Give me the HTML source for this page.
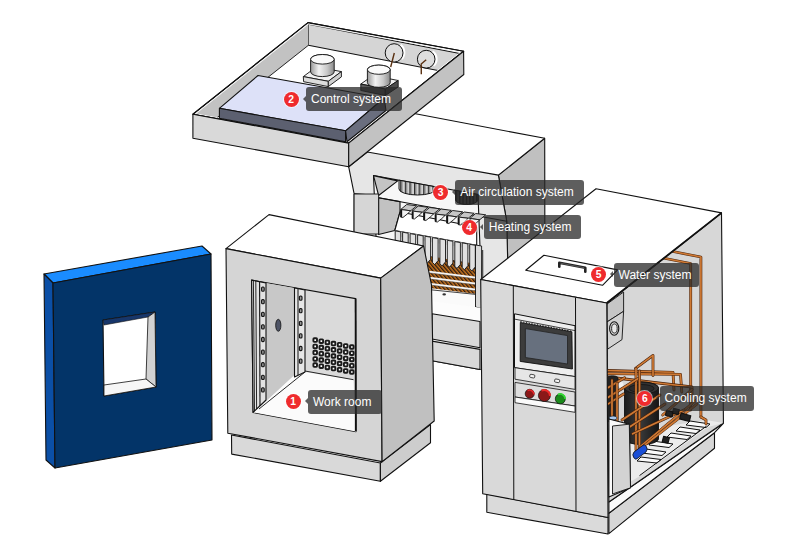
<!DOCTYPE html>
<html><head><meta charset="utf-8">
<style>
html,body{margin:0;padding:0;background:#fff;}
body{width:794px;height:550px;overflow:hidden;position:relative;font-family:"Liberation Sans",sans-serif;}
svg{position:absolute;left:0;top:0;}
.lb{position:absolute;height:24.2px;background:rgba(40,40,40,0.75);border-radius:3px;color:#fff;font-size:12px;line-height:24px;padding:0 0 0 5px;white-space:nowrap;box-sizing:border-box;}
.lb:before{content:"";position:absolute;left:-3.4px;top:8.9px;border-right:3.4px solid rgba(40,40,40,0.75);border-top:3.2px solid transparent;border-bottom:3.2px solid transparent;}
.dot{position:absolute;width:15px;height:15px;border-radius:50%;background:#ef2b2d;color:#fff;font-size:10.3px;font-weight:bold;line-height:15.6px;text-align:center;box-shadow:0 0 0 1px rgba(255,255,255,0.6);}
</style></head><body>
<svg width="794" height="550" viewBox="0 0 794 550" stroke-linejoin="round">
<g stroke="#111" stroke-width="1.1">
<!-- ============ BLUE DOOR PANEL ============ -->
<polygon points="44,274 202,246 211,254 53,283" fill="#1a8cff"/>
<polygon points="44,274 53,283 55,468 46,460" fill="#0b4fa6"/>
<polygon points="53,283 211,254 212,440 55,468" fill="#033468"/>
<polygon points="103,320 155,312 156,387 104,396" fill="#fff"/>
<polygon points="103,320 155,312 148,317 104,325" fill="#17366a" stroke-width="0.6"/>
<polygon points="148,317 155,312 156,387 146,379" fill="#d2d2d2" stroke-width="0.8"/>
<polygon points="104,385 146,379 156,387 104,396" fill="#f6f6f6" stroke-width="0.8"/>
</g>
<!-- ============ MIDDLE UNIT ============ -->
<defs>
<pattern id="cu" width="2.8" height="4" patternUnits="userSpaceOnUse" patternTransform="rotate(-40)"><rect width="2.8" height="4" fill="#c8741f"/><rect width="1.3" height="4" fill="#2a1a10"/></pattern>
<linearGradient id="fan" x1="0" x2="1"><stop offset="0" stop-color="#777"/><stop offset="0.5" stop-color="#ddd"/><stop offset="1" stop-color="#666"/></linearGradient>
</defs>
<g stroke="#111" stroke-width="1.1">
<polygon points="498.4,175.1 544.7,138.3 545,330 508.2,330 508.2,280 506.7,221.2" fill="#c0c0c0"/>
<polygon points="348.7,166.8 420,110 544.7,138.3 498.4,175.1 367.3,152.05" fill="#fff" stroke="none"/><line x1="405" y1="111.8" x2="544.7" y2="138.3"/><line x1="544.7" y1="138.3" x2="498.4" y2="175.1"/>
<polygon points="348.7,166.8 367.3,152.05 498.4,175.1 506.7,221.2 508.2,280 508.2,371 480,369.5 432,360.8 354,360 354.1,193.6" fill="#e6e6e6"/>
<line x1="482.7" y1="250" x2="483" y2="380" stroke-width="0.9"/>
<polygon points="373.5,175.6 478,194.5 482,300 378.6,300" fill="#f7f7f7"/>
<polygon points="373.5,175.6 397.7,180.9 378.6,195.5" fill="#c4c4c4"/>
<polygon points="378.6,197.7 400,201.6 400,212 394.8,230.5 378.6,234.5" fill="#c2c2c2"/>
<line x1="378.6" y1="197.7" x2="506.7" y2="221.2"/>
<line x1="354.1" y1="193.6" x2="378.6" y2="195.5" stroke-width="0.9"/>
<rect x="354.1" y="194" width="24.5" height="40" fill="#d6d6d6" stroke-width="0.9"/>
<!-- fans -->
<pattern stroke="none" id="blade" width="4.6" height="10" patternUnits="userSpaceOnUse"><rect width="4.6" height="10" fill="#d2d2d2"/><rect width="1.4" height="10" fill="#2a2a2a"/><rect x="1.4" width="1" height="10" fill="#8c8c8c"/></pattern>
<pattern stroke="none" id="blade2" width="3.4" height="10" patternUnits="userSpaceOnUse"><rect width="3.4" height="10" fill="#555"/><rect width="1.3" height="10" fill="#111"/></pattern>
<path d="M399,180.2 L399,189 A18.5,6 0 0 0 436,189 L436,186.9 Z" fill="url(#blade)" stroke-width="1"/>
<path d="M455.5,190.4 L455.5,200 A11.3,5 0 0 0 478,200 L478,194.5 Z" fill="url(#blade2)" stroke-width="1"/>
<!-- heater box -->
<polygon points="400,212 476.7,227 476.7,245.3 394.8,230.5" fill="#fff"/>
<g stroke-width="0.9"><polygon points="400.7,209.5 406.7,204.5 416.7,205.8 410.7,210.8" fill="#c6c6c6"/><polygon points="400.7,209.5 410.7,210.8 407.2,214.1 402.9,217.5 400.7,217.1" fill="#f2f2f2"/><line x1="401.3" y1="210.0" x2="401.3" y2="217.1" stroke-width="1.7"/><polygon points="412.2,211.0 418.2,206.0 428.2,207.3 422.2,212.3" fill="#c6c6c6"/><polygon points="412.2,211.0 422.2,212.3 418.7,215.6 414.4,219.0 412.2,218.6" fill="#f2f2f2"/><line x1="412.8" y1="211.5" x2="412.8" y2="218.6" stroke-width="1.7"/><polygon points="423.7,212.5 429.7,207.5 439.7,208.8 433.7,213.8" fill="#c6c6c6"/><polygon points="423.7,212.5 433.7,213.8 430.2,217.1 425.9,220.5 423.7,220.1" fill="#f2f2f2"/><line x1="424.3" y1="213.0" x2="424.3" y2="220.1" stroke-width="1.7"/><polygon points="435.2,214.0 441.2,209.0 451.2,210.3 445.2,215.3" fill="#c6c6c6"/><polygon points="435.2,214.0 445.2,215.3 441.7,218.6 437.4,222.0 435.2,221.6" fill="#f2f2f2"/><line x1="435.8" y1="214.5" x2="435.8" y2="221.6" stroke-width="1.7"/><polygon points="446.7,215.5 452.7,210.5 462.7,211.8 456.7,216.8" fill="#c6c6c6"/><polygon points="446.7,215.5 456.7,216.8 453.2,220.1 448.9,223.5 446.7,223.1" fill="#f2f2f2"/><line x1="447.3" y1="216.0" x2="447.3" y2="223.1" stroke-width="1.7"/><polygon points="458.2,217.0 464.2,212.0 474.2,213.3 468.2,218.3" fill="#c6c6c6"/><polygon points="458.2,217.0 468.2,218.3 464.7,221.6 460.4,225.0 458.2,224.6" fill="#f2f2f2"/><line x1="458.8" y1="217.5" x2="458.8" y2="224.6" stroke-width="1.7"/><polygon points="469.7,218.5 475.7,213.5 485.7,214.8 479.7,219.8" fill="#c6c6c6"/><polygon points="469.7,218.5 479.7,219.8 476.2,223.1 471.9,226.5 469.7,226.1" fill="#f2f2f2"/><line x1="470.3" y1="219.0" x2="470.3" y2="226.1" stroke-width="1.7"/></g>
<polygon points="423,255 476.7,264 476.7,294 430,288 423,284" fill="url(#cu)" stroke="none"/>
<polygon points="431,290 476.7,294.5 478,312 423,312" fill="#fafafa" stroke="none"/>
<line x1="425" y1="271.2" x2="476.7" y2="277.8" stroke="#f4f4f4" stroke-width="2"/><line x1="425" y1="272.4" x2="476.7" y2="279.0" stroke="#555" stroke-width="0.5"/>
<line x1="425" y1="277.2" x2="476.7" y2="283.8" stroke="#f4f4f4" stroke-width="2"/><line x1="425" y1="278.4" x2="476.7" y2="285.0" stroke="#555" stroke-width="0.5"/>
<line x1="425" y1="283.2" x2="476.7" y2="289.8" stroke="#f4f4f4" stroke-width="2"/><line x1="425" y1="284.4" x2="476.7" y2="291.0" stroke="#555" stroke-width="0.5"/>
<line x1="428" y1="289.5" x2="476.7" y2="294.5" stroke-width="0.8"/>
<polygon points="394.8,230.5 476.7,245.3 476.7,250 394.8,236" fill="#e2e2e2" stroke="none"/>
<g fill="#e0e0e0" stroke-width="0.9"><polygon points="395.2,230.9 400.8,231.9 400.8,241.9 395.2,240.9"/><polygon points="402.6,232.2 408.2,233.2 408.2,243.2 402.6,242.2"/><polygon points="410.1,233.6 415.7,234.6 415.7,244.6 410.1,243.6"/><polygon points="417.6,234.9 423.2,235.9 423.2,245.9 417.6,244.9"/><polygon points="425.0,236.2 430.6,237.2 430.6,259.3 427.2,263.3 425.0,261.3"/><polygon points="432.4,237.6 438.1,238.6 438.1,260.6 434.7,264.6 432.4,262.6"/><polygon points="439.9,238.9 445.5,239.9 445.5,261.9 442.1,265.9 439.9,263.9"/><polygon points="447.3,240.3 452.9,241.3 452.9,263.1 449.6,267.1 447.3,265.1"/><polygon points="454.8,241.6 460.4,242.6 460.4,264.4 457.0,268.4 454.8,266.4"/><polygon points="462.2,242.9 467.9,243.9 467.9,265.7 464.5,269.7 462.2,267.7"/><polygon points="469.7,244.3 475.3,245.3 475.3,266.9 471.9,270.9 469.7,268.9"/></g>
<ellipse cx="444.2" cy="294.4" rx="1.8" ry="1.1" fill="#333" stroke="none"/>
<polygon points="475.5,245 481.6,246 481.6,308.6 475.5,307" fill="#d8d8d8" stroke-width="0.9"/>
<polygon points="423,300 482,308 482,369.5 432,360.8 423,360" fill="#fcfcfc" stroke="none"/>
<polygon points="432,313.8 480,321.5 480,347.7 432,339" fill="#d9d9d9"/>
<polygon points="432,341.1 480,349.4 480,369.5 432,360.8" fill="#d9d9d9"/>
</g>
<!-- ============ CONTROL TRAY ============ -->
<defs>
<clipPath id="trayin"><polygon points="308.4,24.1 460.4,52.1 347.8,141.6 196.1,113.4"/></clipPath>
<linearGradient id="cyl" x1="0" x2="1"><stop offset="0" stop-color="#9a9a9a"/><stop offset="0.35" stop-color="#f2f2f2"/><stop offset="0.7" stop-color="#c8c8c8"/><stop offset="1" stop-color="#8a8a8a"/></linearGradient>
</defs>
<g stroke="#111" stroke-width="1.1">
<polygon points="308,22.6 463.6,51.3 348.7,143.1 192.9,114.2" fill="#fff"/>
<g clip-path="url(#trayin)">
<polygon points="308.4,24.1 470,55.5 470,76.8 308.4,45.3" fill="#d5d5d5" stroke-width="1.1"/>
<polygon points="308.4,24.1 308.4,45.3 180,147 180,120" fill="#c2c2c2" stroke="none"/>
<line x1="308.4" y1="45.3" x2="190" y2="139.1" stroke-width="0.9"/>
</g>
<polygon points="308,22.6 463.6,51.3 348.7,143.1 192.9,114.2" fill="none"/>
<polyline points="196.1,113.4 308.4,24.1 460.4,52.1" fill="none" stroke="#f2f2f2" stroke-width="0.9"/>
<polygon points="192.9,114.2 348.7,143.1 348.7,166.8 192.9,138.2" fill="#d9d9d9"/>
<polygon points="348.7,143.1 463.6,51.3 463.8,74.5 348.7,166.8" fill="#c2c2c2"/>
<!-- gauges -->
<path d="M400.5,45 a9,9.3 0 0 1 1,14" fill="none" stroke="#fff" stroke-width="2.5"/><ellipse cx="394.1" cy="52.9" rx="8.9" ry="9.2" fill="#dedede" stroke-width="1"/>
<path d="M432.5,51.5 a9,9 0 0 1 1,14" fill="none" stroke="#fff" stroke-width="2.5"/><ellipse cx="426.2" cy="59.2" rx="8.8" ry="8.9" fill="#dedede" stroke-width="1"/>
<path d="M394.3,53 L390.7,67" stroke="#5a3010" stroke-width="1.4"/>
<path d="M426.2,59.8 L421.2,64 L421.3,74.3" stroke="#5a3010" stroke-width="1.4" fill="none"/>
<!-- board -->
<polygon points="258,75.5 384.2,98 345.6,130.8 219.4,108.3" fill="#dde1f8"/>
<polygon points="219.4,108.3 345.6,130.8 345.6,141.8 219.4,118.2" fill="#5c6070"/>
<polygon points="345.6,130.8 384.2,98 386,110.5 347,141.8" fill="#6a6e7e"/>
<!-- relay 1 -->
<polygon points="303.3,76.6 316.4,66.9 341.4,71.6 328.3,81.3" fill="#f2f2f2" stroke-width="0.9"/>
<polygon points="303.3,76.6 328.3,81.3 328.3,86.6 303.6,81.7" fill="#dcdcdc" stroke-width="0.9"/>
<polygon points="328.3,81.3 341.4,71.6 341.4,76.9 328.3,86.6" fill="#cfcfcf" stroke-width="0.9"/>
<path d="M310.6,59.3 a11.8,4.8 0 0 1 23.6,0 v12.5 a11.8,4.8 0 0 1 -23.6,0 z" fill="url(#cyl)" stroke-width="0.9"/>
<ellipse cx="322.4" cy="59.3" rx="11.8" ry="4.8" fill="#fafafa" stroke-width="0.9"/>
<!-- relay 2 -->
<polygon points="360.8,84 373,75.5 398.2,80.5 385.3,89" fill="#f0f0f0" stroke-width="0.9"/>
<polygon points="360.8,84 385.3,89 385.3,95.5 360.8,90.5" fill="#5a5a5a" stroke-width="0.9"/>
<polygon points="385.3,89 398.2,80.5 398.2,87 385.3,95.5" fill="#4a4a4a" stroke-width="0.9"/>
<path d="M367.4,69.7 a11.4,4.6 0 0 1 22.8,0 v13 a11.4,4.6 0 0 1 -22.8,0 z" fill="url(#cyl)" stroke-width="0.9"/>
<ellipse cx="378.8" cy="69.7" rx="11.4" ry="4.6" fill="#fafafa" stroke-width="0.9"/>
</g>
<!-- ============ WORK ROOM ============ -->
<g stroke="#111" stroke-width="1.1">
<polygon points="231.5,435 380.4,463 380.4,481.3 231.7,454.1" fill="#d9d9d9"/>
<polygon points="380.4,463 430.5,424.5 430.5,442.7 380.4,481.3" fill="#cdcdcd"/>
<polygon points="269,214.6 423.6,246 380.7,278.1 226,248.6" fill="#fff"/>
<polygon points="226,248.6 380.7,278.1 382.1,461.6 227.8,433.2" fill="#d5d5d5"/>
<polygon points="380.7,278.1 423.6,246 431.5,285 434.2,421 382.1,461.6" fill="#c0c0c0"/>
<!-- opening interior -->
<polygon points="251.6,280.1 355.6,298.6 356,431.6 253.1,412.4" fill="#dadada"/>
<polygon points="266,283 294.5,288 294.5,375 262,405" fill="#c8c8c8" stroke="none"/>
<polygon points="253.1,412.4 262,405 294.5,375 305,372 353.5,379.7 356,431.6" fill="#fbfbfb" stroke="none"/>
<line x1="305" y1="371" x2="353.5" y2="379.7" stroke-width="0.9"/>
<line x1="259" y1="409" x2="305" y2="372" stroke-width="0.9"/>
<polygon points="251.6,280.1 266,283 266,400 253.1,412.4" fill="#e2e2e2" stroke-width="1.1"/>
<line x1="253.4" y1="281" x2="254.5" y2="411" stroke-width="0.9"/>
<line x1="255.8" y1="281" x2="256.6" y2="409" stroke-width="0.9"/>
<line x1="259.6" y1="282" x2="260" y2="406" stroke-width="1.1"/>
<polygon points="294.5,288 305,290 305,372 294.5,377" fill="#e6e6e6" stroke-width="1.1"/>
<line x1="298" y1="289" x2="298" y2="375" stroke-width="1"/>
<ellipse cx="278.3" cy="325.3" rx="2.6" ry="6" fill="#4e5466" stroke-width="0.8"/>
<g fill="#9a9a9a" stroke-width="1.1"><rect x="261.6" y="287.0" width="2.6" height="4.2" rx="1"/><rect x="261.6" y="299.6" width="2.6" height="4.2" rx="1"/><rect x="261.6" y="312.2" width="2.6" height="4.2" rx="1"/><rect x="261.6" y="324.8" width="2.6" height="4.2" rx="1"/><rect x="261.6" y="337.4" width="2.6" height="4.2" rx="1"/><rect x="261.6" y="350.0" width="2.6" height="4.2" rx="1"/><rect x="261.6" y="362.6" width="2.6" height="4.2" rx="1"/><rect x="261.6" y="375.2" width="2.6" height="4.2" rx="1"/><rect x="261.6" y="387.8" width="2.6" height="4.2" rx="1"/><rect x="299.4" y="296.0" width="2.6" height="4.2" rx="1"/><rect x="299.4" y="308.6" width="2.6" height="4.2" rx="1"/><rect x="299.4" y="321.2" width="2.6" height="4.2" rx="1"/><rect x="299.4" y="333.8" width="2.6" height="4.2" rx="1"/><rect x="299.4" y="346.4" width="2.6" height="4.2" rx="1"/><rect x="299.4" y="359.0" width="2.6" height="4.2" rx="1"/></g>
<g fill="#fff" stroke="#1a1a1a" stroke-width="1.9"><rect x="313.4" y="338.3" width="3.6" height="3.6" rx="0.8"/><rect x="313.4" y="344.6" width="3.6" height="3.6" rx="0.8"/><rect x="313.4" y="350.8" width="3.6" height="3.6" rx="0.8"/><rect x="313.4" y="357.1" width="3.6" height="3.6" rx="0.8"/><rect x="313.4" y="363.3" width="3.6" height="3.6" rx="0.8"/><rect x="319.5" y="339.4" width="3.6" height="3.6" rx="0.8"/><rect x="319.5" y="345.7" width="3.6" height="3.6" rx="0.8"/><rect x="319.5" y="351.9" width="3.6" height="3.6" rx="0.8"/><rect x="319.5" y="358.2" width="3.6" height="3.6" rx="0.8"/><rect x="319.5" y="364.4" width="3.6" height="3.6" rx="0.8"/><rect x="325.6" y="340.6" width="3.6" height="3.6" rx="0.8"/><rect x="325.6" y="346.9" width="3.6" height="3.6" rx="0.8"/><rect x="325.6" y="353.1" width="3.6" height="3.6" rx="0.8"/><rect x="325.6" y="359.4" width="3.6" height="3.6" rx="0.8"/><rect x="325.6" y="365.6" width="3.6" height="3.6" rx="0.8"/><rect x="331.7" y="341.8" width="3.6" height="3.6" rx="0.8"/><rect x="331.7" y="348.0" width="3.6" height="3.6" rx="0.8"/><rect x="331.7" y="354.2" width="3.6" height="3.6" rx="0.8"/><rect x="331.7" y="360.5" width="3.6" height="3.6" rx="0.8"/><rect x="331.7" y="366.8" width="3.6" height="3.6" rx="0.8"/><rect x="337.8" y="342.9" width="3.6" height="3.6" rx="0.8"/><rect x="337.8" y="349.2" width="3.6" height="3.6" rx="0.8"/><rect x="337.8" y="355.4" width="3.6" height="3.6" rx="0.8"/><rect x="337.8" y="361.7" width="3.6" height="3.6" rx="0.8"/><rect x="337.8" y="367.9" width="3.6" height="3.6" rx="0.8"/><rect x="343.9" y="344.1" width="3.6" height="3.6" rx="0.8"/><rect x="343.9" y="350.3" width="3.6" height="3.6" rx="0.8"/><rect x="343.9" y="356.6" width="3.6" height="3.6" rx="0.8"/><rect x="343.9" y="362.8" width="3.6" height="3.6" rx="0.8"/><rect x="343.9" y="369.1" width="3.6" height="3.6" rx="0.8"/><rect x="350.0" y="345.2" width="3.6" height="3.6" rx="0.8"/><rect x="350.0" y="351.4" width="3.6" height="3.6" rx="0.8"/><rect x="350.0" y="357.7" width="3.6" height="3.6" rx="0.8"/><rect x="350.0" y="363.9" width="3.6" height="3.6" rx="0.8"/><rect x="350.0" y="370.2" width="3.6" height="3.6" rx="0.8"/></g>
<line x1="355.6" y1="298.6" x2="355.8" y2="431" stroke-width="1.8"/>
</g>
<!-- ============ RIGHT UNIT ============ -->
<defs>
<linearGradient id="comp" x1="0" x2="1"><stop offset="0" stop-color="#1c1c1c"/><stop offset="0.45" stop-color="#3a3a3a"/><stop offset="1" stop-color="#161616"/></linearGradient>
</defs>
<g stroke="#111" stroke-width="1.1">
<!-- right side skirt/platform -->
<polygon points="714.5,432.7 608.9,513.2 608.9,533.6 714.5,448.2" fill="#d6d6d6"/>
<polygon points="723.4,423.3 608.9,502 608.9,513.2 714.5,432.7" fill="#fafafa"/>
<!-- right side back panel -->
<polygon points="606.8,303 721.5,212.9 723.4,419 723.4,422.9 608.9,502" fill="#d7d7d7"/>
<!-- floor -->
<polygon points="630,432 706,420 723.4,422.9 708,427 640,476 630,482" fill="#ececec" stroke="none"/>
<g fill="#fbfbfb" stroke-width="1">
<polygon points="641,457 661,459.5 657,463 637,461"/>
<polygon points="646,449 666,452 662,455.5 642,453"/>
<polygon points="653,441 673,444 669,447.5 649,445"/>
<polygon points="671,433 691,436 687,439.5 667,437"/>
<polygon points="680,427 700,430 696,433.5 676,431"/>
<polygon points="690,421 710,424 706,427.5 686,425"/>
</g>
<line x1="706.4" y1="426.2" x2="639.5" y2="475.6" stroke-width="1"/>
<path d="M663,258 L690.7,263.5 L690.7,410" fill="none" stroke="#4a220a" stroke-width="2.8" stroke-linecap="round" stroke-linejoin="round"/><path d="M663,258 L690.7,263.5 L690.7,410" fill="none" stroke="#cf7a35" stroke-width="1.7" stroke-linecap="round" stroke-linejoin="round"/><path d="M673,251.5 L700.9,257 L700.9,417" fill="none" stroke="#4a220a" stroke-width="2.8" stroke-linecap="round" stroke-linejoin="round"/><path d="M673,251.5 L700.9,257 L700.9,417" fill="none" stroke="#cf7a35" stroke-width="1.7" stroke-linecap="round" stroke-linejoin="round"/><path d="M608,370.5 L673,372.4 L674,390" fill="none" stroke="#4a220a" stroke-width="2.8" stroke-linecap="round" stroke-linejoin="round"/><path d="M608,370.5 L673,372.4 L674,390" fill="none" stroke="#cf7a35" stroke-width="1.7" stroke-linecap="round" stroke-linejoin="round"/><path d="M608,373.6 L680.5,374.3 L681.8,392" fill="none" stroke="#4a220a" stroke-width="2.8" stroke-linecap="round" stroke-linejoin="round"/><path d="M608,373.6 L680.5,374.3 L681.8,392" fill="none" stroke="#cf7a35" stroke-width="1.7" stroke-linecap="round" stroke-linejoin="round"/><path d="M635.5,368.4 L653,355.4 L653,375.5" fill="none" stroke="#4a220a" stroke-width="2.8" stroke-linecap="round" stroke-linejoin="round"/><path d="M635.5,368.4 L653,355.4 L653,375.5" fill="none" stroke="#cf7a35" stroke-width="1.7" stroke-linecap="round" stroke-linejoin="round"/><path d="M608,377 L692,387 L692,395" fill="none" stroke="#4a220a" stroke-width="2.8" stroke-linecap="round" stroke-linejoin="round"/><path d="M608,377 L692,387 L692,395" fill="none" stroke="#cf7a35" stroke-width="1.7" stroke-linecap="round" stroke-linejoin="round"/><!-- compressor -->
<path d="M624.5,388 a17,6 0 0 1 34,0 v51 a17,5.5 0 0 1 -34,0 z" fill="url(#comp)" stroke-width="0.9"/>
<ellipse cx="641.5" cy="388" rx="17" ry="6" fill="#333" stroke-width="0.8"/>
<ellipse cx="641.5" cy="388.5" rx="12.5" ry="4" fill="#2a2a2a" stroke="#111" stroke-width="0.7"/>
<path d="M607,378 a5.5,2.2 0 0 1 11,0 v42 a5.5,2.2 0 0 1 -11,0 z" fill="#222" stroke-width="0.8"/>
<ellipse cx="621" cy="385" rx="2.5" ry="3" fill="#f0f0f0" stroke="none"/>
<path d="M636,368.4 L636,450" fill="none" stroke="#4a220a" stroke-width="2.8" stroke-linecap="round" stroke-linejoin="round"/><path d="M636,368.4 L636,450" fill="none" stroke="#cf7a35" stroke-width="1.7" stroke-linecap="round" stroke-linejoin="round"/><path d="M639.5,371 L639.5,448" fill="none" stroke="#4a220a" stroke-width="2.8" stroke-linecap="round" stroke-linejoin="round"/><path d="M639.5,371 L639.5,448" fill="none" stroke="#cf7a35" stroke-width="1.7" stroke-linecap="round" stroke-linejoin="round"/><path d="M637.7,378.8 L608.3,397.3" fill="none" stroke="#4a220a" stroke-width="2.8" stroke-linecap="round" stroke-linejoin="round"/><path d="M637.7,378.8 L608.3,397.3" fill="none" stroke="#cf7a35" stroke-width="1.7" stroke-linecap="round" stroke-linejoin="round"/><path d="M624.6,377.7 L608.3,387.5" fill="none" stroke="#4a220a" stroke-width="2.8" stroke-linecap="round" stroke-linejoin="round"/><path d="M624.6,377.7 L608.3,387.5" fill="none" stroke="#cf7a35" stroke-width="1.7" stroke-linecap="round" stroke-linejoin="round"/><path d="M623.5,394 L608.3,403.9" fill="none" stroke="#4a220a" stroke-width="2.8" stroke-linecap="round" stroke-linejoin="round"/><path d="M623.5,394 L608.3,403.9" fill="none" stroke="#cf7a35" stroke-width="1.7" stroke-linecap="round" stroke-linejoin="round"/><path d="M692,389.5 L662.7,415" fill="none" stroke="#4a220a" stroke-width="2.8" stroke-linecap="round" stroke-linejoin="round"/><path d="M692,389.5 L662.7,415" fill="none" stroke="#cf7a35" stroke-width="1.7" stroke-linecap="round" stroke-linejoin="round"/><path d="M700,397 L640,447" fill="none" stroke="#4a220a" stroke-width="2.8" stroke-linecap="round" stroke-linejoin="round"/><path d="M700,397 L640,447" fill="none" stroke="#cf7a35" stroke-width="1.7" stroke-linecap="round" stroke-linejoin="round"/><path d="M697,404 L636,452" fill="none" stroke="#4a220a" stroke-width="2.8" stroke-linecap="round" stroke-linejoin="round"/><path d="M697,404 L636,452" fill="none" stroke="#cf7a35" stroke-width="1.7" stroke-linecap="round" stroke-linejoin="round"/><path d="M684,410 L632.7,433.8" fill="none" stroke="#4a220a" stroke-width="2.8" stroke-linecap="round" stroke-linejoin="round"/><path d="M684,410 L632.7,433.8" fill="none" stroke="#cf7a35" stroke-width="1.7" stroke-linecap="round" stroke-linejoin="round"/><path d="M660,395 L622,420" fill="none" stroke="#4a220a" stroke-width="2.8" stroke-linecap="round" stroke-linejoin="round"/><path d="M660,395 L622,420" fill="none" stroke="#cf7a35" stroke-width="1.7" stroke-linecap="round" stroke-linejoin="round"/><path d="M665,404 L628,428" fill="none" stroke="#4a220a" stroke-width="2.8" stroke-linecap="round" stroke-linejoin="round"/><path d="M665,404 L628,428" fill="none" stroke="#cf7a35" stroke-width="1.7" stroke-linecap="round" stroke-linejoin="round"/><path d="M612,380 L612,420" fill="none" stroke="#4a220a" stroke-width="2.8" stroke-linecap="round" stroke-linejoin="round"/><path d="M612,380 L612,420" fill="none" stroke="#cf7a35" stroke-width="1.7" stroke-linecap="round" stroke-linejoin="round"/><path d="M617,383 L617,422" fill="none" stroke="#4a220a" stroke-width="2.8" stroke-linecap="round" stroke-linejoin="round"/><path d="M617,383 L617,422" fill="none" stroke="#cf7a35" stroke-width="1.7" stroke-linecap="round" stroke-linejoin="round"/><path d="M700.9,417 L706,420 L706,424" fill="none" stroke="#4a220a" stroke-width="2.8" stroke-linecap="round" stroke-linejoin="round"/><path d="M700.9,417 L706,420 L706,424" fill="none" stroke="#cf7a35" stroke-width="1.7" stroke-linecap="round" stroke-linejoin="round"/><rect x="666" y="411" width="7" height="5" fill="#222" transform="rotate(15 669 413)"/>
<rect x="680" y="414" width="10" height="6" fill="#222" transform="rotate(15 684 418)"/>
<rect x="673" y="409" width="6" height="5" fill="#222" transform="rotate(15 676 411)"/>
<rect x="663" y="437" width="6" height="5.5" fill="#222" transform="rotate(15 666 439)"/>
<path d="M634,452 l8,-6 a3,4 0 0 1 4,6 l-8,6 a3,4 0 0 1 -4,-6z" fill="#1b4fd6" stroke-width="0.8"/>
<ellipse cx="613" cy="418" rx="4" ry="2" fill="#a8c8ee" stroke-width="0.6"/>
<!-- water tank box -->
<polygon points="608.9,419 629.3,424.2 630.5,487.8 608.9,497" fill="#fafafa"/>
<polygon points="612.5,426 629.3,424.2 630.5,487.8 612.5,494" fill="#d3d3d3" stroke-width="0.9"/>
<!-- side gauge strip -->
<polygon points="607.1,304 623.6,292 623.6,311.3 607.1,321.9" fill="#c6c6c6" stroke-width="0.9"/>
<polygon points="607.1,321.9 623.6,311.3 622,339.6 607.7,349.1" fill="#d2d2d2" stroke-width="0.9"/>
<ellipse cx="614.2" cy="328.5" rx="4.6" ry="6.8" fill="#e0e0e0" stroke-width="1.1"/>
<ellipse cx="614.4" cy="328.5" rx="2.8" ry="4.6" fill="#e8e8e8" stroke-width="0.9"/>
<!-- top face -->
<polygon points="480.7,279.5 596,188.7 721.5,212.9 606.8,303" fill="#fff"/>
<line x1="721.5" y1="212.9" x2="606.8" y2="303" stroke-width="1.8"/>
<polygon points="525.7,270.2 543.9,255.3 617.6,269.9 602.5,285.3" fill="#fff"/>
<path d="M559.3,266.8 L559.3,262.8 L585.3,267.8 L585.3,271.8" fill="none" stroke="#222" stroke-width="2.6" stroke-linecap="round"/><path d="M560.5,263.2 L584,267.7" fill="none" stroke="#666" stroke-width="0.8"/>
<!-- front face -->
<polygon points="486.8,494 608,517.5 608,534 486.8,512.3" fill="#dadada"/>
<polygon points="480.7,279.5 606.8,303 608,517.5 482.7,493.7" fill="#d9d9d9"/>
<line x1="513.3" y1="285.8" x2="513.8" y2="500" stroke-width="1"/>
<line x1="575.5" y1="297.6" x2="576" y2="512" stroke-width="1"/>
<polygon points="514.5,313.8 575,325.7 575,376.6 514.5,367.7" fill="#eeeeee" stroke-width="1"/>
<line x1="514.5" y1="319.1" x2="575" y2="330.6" stroke-width="0.8"/>
<line x1="520.4" y1="321.6" x2="572" y2="331.3" stroke-width="1" stroke-dasharray="1.3 1.5"/>
<polygon points="520.3,322.5 571.9,331.8 572.4,369 520.2,361.4" fill="#3c3c3c" stroke-width="0.9"/>
<polygon points="525.4,328.6 567.5,335.6 567.5,364 525.4,357.5" fill="#67707e" stroke="#222" stroke-width="0.8"/>
<polygon points="515,367.7 575,376.6 575,389.4 515,379.2" fill="#e6e6e6" stroke-width="0.8"/>
<rect x="529.8" y="374.5" width="5" height="3.2" rx="1" fill="#f4f4f4" stroke-width="0.7" transform="rotate(10 532 376)"/>
<rect x="554.6" y="379.2" width="5" height="3.2" rx="1" fill="#f4f4f4" stroke-width="0.7" transform="rotate(10 557 381)"/>
<polygon points="515,382.4 575,392 575,406 515,397" fill="#dedede" stroke-width="0.8"/>
<polygon points="515,397 575,406 575,412.3 515,402.7" fill="#fafafa" stroke-width="0.8"/>
<circle cx="529.7" cy="393.8" r="4.5" fill="#8a1818" stroke-width="0.7"/>
<path d="M527.5,390.5 a4.5,4.5 0 0 1 6.5,4" fill="none" stroke="#e8262b" stroke-width="1.6"/>
<circle cx="544.4" cy="395.5" r="6" fill="#8a1818" stroke-width="0.7"/>
<path d="M541.5,390.5 a6,6 0 0 1 8.5,5.5" fill="none" stroke="#ee2a2a" stroke-width="2"/>
<circle cx="560.3" cy="398.9" r="5" fill="#1b8a1b" stroke-width="0.7"/>
<path d="M558,394.5 a5,5 0 0 1 7.2,4.5" fill="none" stroke="#33dd33" stroke-width="1.8"/>
</g>
</svg>
<div class="dot" style="left:283.7px;top:91.6px">2</div>
<div class="lb" style="left:306px;top:87px;width:95.5px">Control system</div>
<div class="dot" style="left:433.0px;top:185.0px">3</div>
<div class="lb" style="left:455.3px;top:180.4px;width:129.2px">Air circulation system</div>
<div class="dot" style="left:461.5px;top:219.9px">4</div>
<div class="lb" style="left:483.8px;top:215.3px;width:96.8px">Heating system</div>
<div class="dot" style="left:591.2px;top:267.2px">5</div>
<div class="lb" style="left:613.5px;top:262.6px;width:85.1px">Water system</div>
<div class="dot" style="left:637.3px;top:391.0px">6</div>
<div class="lb" style="left:659.6px;top:386.4px;width:94.6px">Cooling system</div>
<div class="dot" style="left:285.7px;top:394.1px">1</div>
<div class="lb" style="left:308px;top:389.5px;width:73.5px">Work room</div>
</body></html>
